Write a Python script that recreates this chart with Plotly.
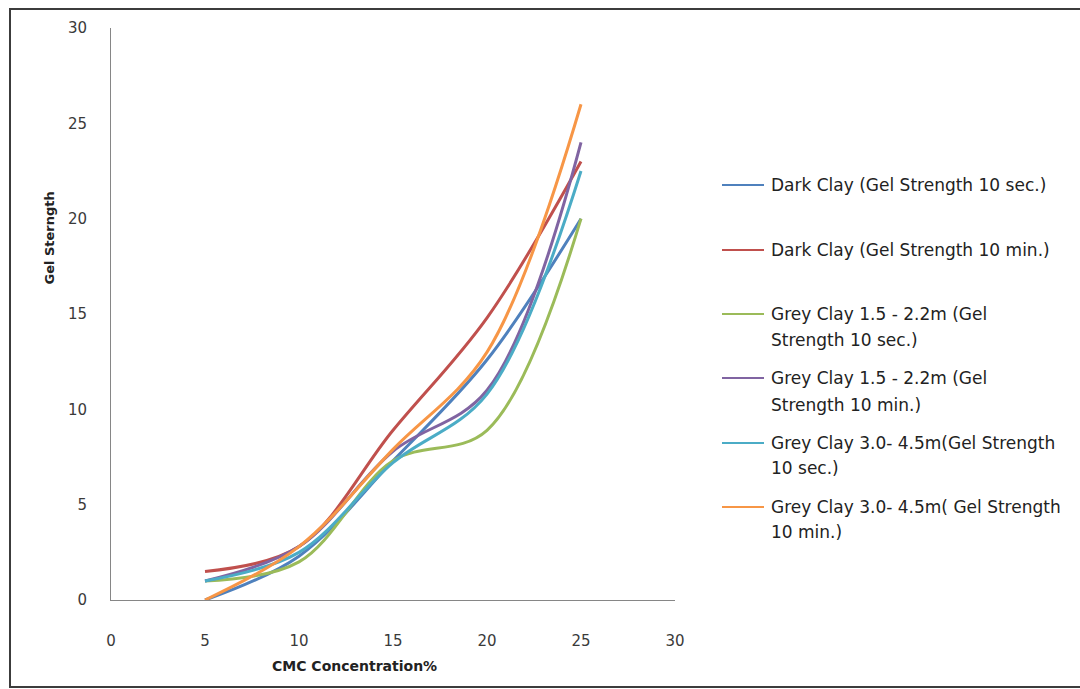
import plotly.graph_objects as go

# CMC concentration (%) at which gel strength was measured
cmc = [5, 10, 15, 20, 25]

dark_10s = [0, 2.3, 7.3, 12.6, 20]
dark_10m = [1.5, 2.8, 8.9, 14.8, 23]
grey15_10s = [1, 2, 7.3, 8.9, 20]
grey15_10m = [1, 2.8, 7.8, 11, 24]
grey30_10s = [1, 2.5, 7.2, 10.8, 22.5]
grey30_10m = [0, 2.8, 7.9, 13, 26]

series_names = [
    ["Dark Clay (Gel Strength 10 sec.)"],
    ["Dark Clay (Gel Strength 10 min.)"],
    ["Grey Clay 1.5 - 2.2m (Gel", "Strength 10 sec.)"],
    ["Grey Clay 1.5 - 2.2m (Gel", "Strength 10 min.)"],
    ["Grey Clay 3.0- 4.5m(Gel Strength", "10 sec.)"],
    ["Grey Clay 3.0- 4.5m( Gel Strength", "10 min.)"],
]
series_values = [dark_10s, dark_10m, grey15_10s, grey15_10m, grey30_10s, grey30_10m]
colors = ["#4F81BD", "#C0504D", "#9BBB59", "#8064A2", "#4BACC6", "#F79646"]

x_ticks = [0, 5, 10, 15, 20, 25, 30]
y_ticks = [0, 5, 10, 15, 20, 25, 30]

W, H = 1080, 689
L, R, T, B = 111, 675, 28, 600  # plot area in pixels


def px(x):
    return (x - L) / (R - L)


def py(y):
    return (B - y) / (B - T)


fig = go.Figure()
for name, vals, col in zip(series_names, series_values, colors):
    fig.add_trace(go.Scatter(
        x=cmc, y=vals, mode="lines", name=" ".join(name),
        line=dict(color=col, width=3, shape="spline", smoothing=1.0),
        showlegend=False,
    ))

font_main = "DejaVu Sans"
tick_font = dict(family=font_main, size=15, color="#3a3a3a")

fig.update_layout(
    width=W, height=H,
    margin=dict(l=L, r=W - R, t=T, b=H - B),
    paper_bgcolor="white", plot_bgcolor="white",
    xaxis=dict(range=[0, 30], tickvals=x_ticks, showgrid=False, zeroline=False,
               showline=True, linecolor="#868686", linewidth=1, ticks="",
               tickfont=tick_font, ticklabelstandoff=27, fixedrange=True),
    yaxis=dict(range=[0, 30], tickvals=y_ticks, showgrid=False, zeroline=False,
               showline=True, linecolor="#868686", linewidth=1, ticks="",
               tickfont=tick_font, ticklabelstandoff=20, fixedrange=True),
)

# axis titles
fig.add_annotation(text="<b>CMC Concentration%</b>", x=px(354), y=py(676),
                   xref="paper", yref="paper", showarrow=False,
                   font=dict(family=font_main, size=14, color="#222"))
fig.add_annotation(text="<b>Gel Sterngth</b>", x=px(40), y=py(238),
                   xref="paper", yref="paper", showarrow=False, textangle=-90,
                   font=dict(family=font_main, size=13, color="#222"))

# legend: line sample plus label lines
legend_rows = [[185], [250], [314, 340], [378, 405], [443, 468], [507, 532]]
for name, rows, col in zip(series_names, legend_rows, colors):
    fig.add_shape(type="line", xref="paper", yref="paper",
                  x0=px(722), x1=px(764), y0=py(rows[0]), y1=py(rows[0]),
                  line=dict(color=col, width=2))
    for text, ry in zip(name, rows):
        fig.add_annotation(text=text, x=px(769), y=py(ry), xref="paper", yref="paper",
                           xanchor="left", yanchor="middle", showarrow=False,
                           font=dict(family=font_main, size=17, color="#222"))

# outer frame
fig.add_shape(type="rect", xref="paper", yref="paper",
              x0=px(10), x1=px(1085), y0=py(687), y1=py(9),
              line=dict(color="#3c3c3c", width=2), layer="below")

fig.write_html("out.html")
